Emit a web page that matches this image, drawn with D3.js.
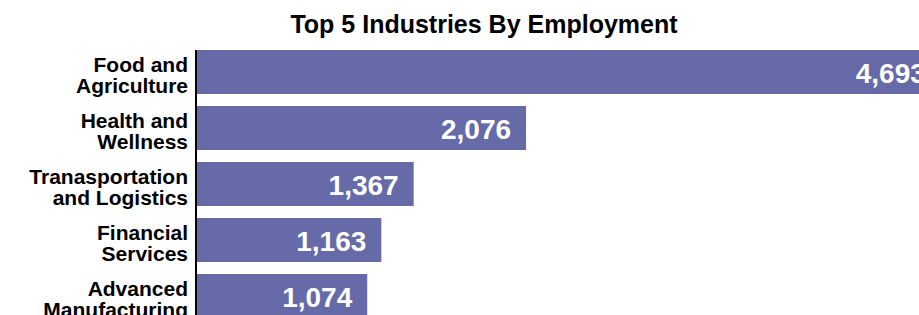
<!DOCTYPE html>
<html>
<head>
<meta charset="utf-8">
<script src="https://cdn.jsdelivr.net/npm/d3@7"></script>
<style>
  html, body { margin: 0; padding: 0; background: #ffffff; overflow: hidden; }
  svg { display: block; font-family: "Liberation Sans", Arial, Helvetica, sans-serif; }
</style>
</head>
<body>
<svg id="chart" width="919" height="315"></svg>
<script>
// ---- data ----
const titleText = "Top 5 Industries By Employment";
const categories = ["Food and Agriculture", "Health and Wellness", "Tranasportation and Logistics", "Financial Services", "Advanced Manufacturing"];
const categoryLines = [["Food and", "Agriculture"], ["Health and", "Wellness"], ["Tranasportation", "and Logistics"], ["Financial", "Services"], ["Advanced", "Manufacturing"]];
const values = [4693, 2076, 1367, 1163, 1074];

// ---- layout ----
const W = 919, H = 315;
const svg = d3.select("#chart");
const x0 = 197;
const x = d3.scaleLinear().domain([0, 5000]).range([x0, x0 + 792.5]);
const y = d3.scaleBand().domain(categories).range([44, 324]).paddingInner(12 / 56).paddingOuter(6 / 56);

svg.append("text")
  .attr("x", 484).attr("y", 33)
  .attr("text-anchor", "middle")
  .attr("font-size", 25).attr("font-weight", "bold").attr("fill", "#000")
  .text(titleText);

const data = categories.map((c, i) => ({ c, v: values[i], lines: categoryLines[i] }));

svg.selectAll("rect.bar").data(data).enter().append("rect")
  .attr("class", "bar")
  .attr("x", x(0))
  .attr("y", d => y(d.c))
  .attr("width", d => x(d.v) - x(0))
  .attr("height", y.bandwidth())
  .attr("fill", "#666aa9");

svg.selectAll("text.val").data(data).enter().append("text")
  .attr("class", "val")
  .attr("x", d => x(d.v) - 15)
  .attr("y", d => y(d.c) + y.bandwidth() / 2 + 10.5)
  .attr("text-anchor", "end")
  .attr("font-size", 28).attr("font-weight", "bold").attr("fill", "#ffffff")
  .text(d => d3.format(",")(d.v));

const labG = svg.selectAll("g.cat").data(data).enter().append("g").attr("class", "cat");
labG.each(function(d) {
  const g = d3.select(this);
  const cy = y(d.c) + y.bandwidth() / 2;
  d.lines.forEach((ln, k) => {
    g.append("text")
      .attr("x", 188).attr("y", cy - 0.5 + k * 21.5)
      .attr("text-anchor", "end")
      .attr("font-size", 21).attr("font-weight", "bold").attr("fill", "#000")
      .text(ln);
  });
});

// axis line
svg.append("line")
  .attr("x1", 196).attr("x2", 196)
  .attr("y1", y(categories[0])).attr("y2", H)
  .attr("stroke", "#000").attr("stroke-width", 2);
</script>
</body>
</html>
